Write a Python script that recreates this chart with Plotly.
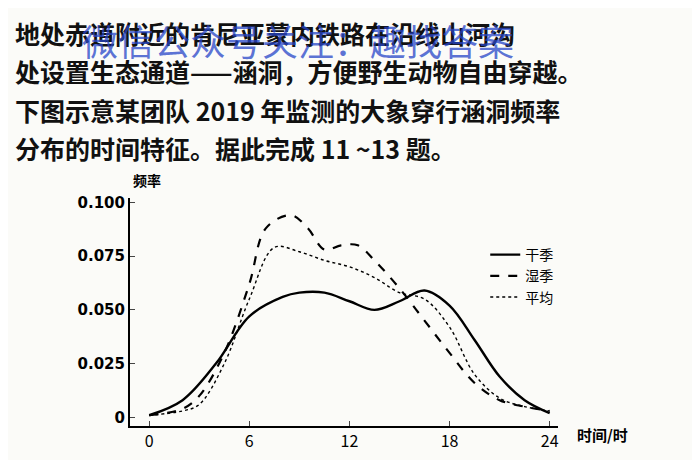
import plotly.graph_objects as go

hours_dry = [0, 2, 4, 6, 8, 9, 10.5, 12, 13.5, 15, 16.5, 18, 19.5, 21, 22.5, 24]
dry = [0.001, 0.008, 0.025, 0.047, 0.056, 0.058, 0.058, 0.054, 0.050, 0.054, 0.059, 0.052, 0.036, 0.019, 0.008, 0.002]

hours_wet = [0, 2, 3, 4.5, 6, 7, 8.5, 9.5, 10.5, 11.5, 12.5, 13.5, 15, 16.5, 18, 19.5, 21, 22.5, 24]
wet = [0.001, 0.004, 0.010, 0.030, 0.062, 0.088, 0.094, 0.088, 0.078, 0.080, 0.080, 0.073, 0.060, 0.045, 0.030, 0.016, 0.008, 0.005, 0.003]

hours_avg = [0, 2, 3, 4.5, 6, 7.5, 9, 10.5, 12, 13.5, 15, 16.5, 18, 19.5, 21, 22.5, 24]
avg = [0.001, 0.003, 0.006, 0.025, 0.055, 0.079, 0.077, 0.073, 0.070, 0.065, 0.058, 0.055, 0.042, 0.020, 0.009, 0.005, 0.003]

x_ticks = [0, 6, 12, 18, 24]
y_ticks = [0, 0.025, 0.05, 0.075, 0.1]
y_labels = ["0", "0.025", "0.050", "0.075", "0.100"]

text_lines = [
    "地处赤道附近的肯尼亚蒙内铁路在沿线山河沟",
    "处设置生态通道——涵洞，方便野生动物自由穿越。",
    "下图示意某团队 2019 年监测的大象穿行涵洞频率",
    "分布的时间特征。据此完成 11 ~13 题。",
]
line_px = [25, 63, 102, 140]

fig = go.Figure()
fig.add_trace(go.Scatter(x=hours_dry, y=dry, name="干季", mode="lines",
                         line=dict(color="black", width=2.4, shape="spline")))
fig.add_trace(go.Scatter(x=hours_wet, y=wet, name="湿季", mode="lines",
                         line=dict(color="black", width=2.2, dash="dash", shape="spline")))
fig.add_trace(go.Scatter(x=hours_avg, y=avg, name="平均", mode="lines",
                         line=dict(color="black", width=1.4, dash="dot", shape="spline")))

font = "Noto Sans CJK SC"
for t, py in zip(text_lines, line_px):
    fig.add_annotation(text="<b>" + t + "</b>", xref="paper", yref="paper",
                       x=-117 / 428, xanchor="left", y=1 + (190 - py) / 228,
                       yanchor="middle", showarrow=False,
                       font=dict(family=font, size=25, color="#111"))
fig.add_annotation(text="微信公众号关注：趣找答案", xref="paper", yref="paper",
                   x=-50 / 428, xanchor="left", y=1 + (190 - 32) / 228, yanchor="middle",
                   showarrow=False, font=dict(family=font, size=36, color="rgba(40,70,200,0.75)"))
fig.add_annotation(text="<b>频率</b>", xref="paper", yref="paper", x=0.04, xanchor="center",
                   y=1 + (190 - 172) / 228, yanchor="middle",
                   showarrow=False, font=dict(family=font, size=14, color="black"))
fig.add_annotation(text="<b>时间/时</b>", xref="paper", yref="paper", x=1.04, xanchor="left",
                   y=-0.09, showarrow=False, font=dict(family=font, size=15, color="black"))

fig.update_xaxes(range=[-1.15, 24.5], tickvals=x_ticks, showgrid=False, zeroline=False,
                 showline=True, linecolor="black", linewidth=2, ticks="inside",
                 tickfont=dict(family=font, size=16, color="black"))
fig.update_yaxes(range=[-0.004, 0.102], tickvals=y_ticks, ticktext=["<b>%s</b>" % s for s in y_labels],
                 showgrid=False, zeroline=False, showline=True, linecolor="black", linewidth=2,
                 ticks="inside", tickfont=dict(family="DejaVu Sans", size=15, color="black"))
fig.update_layout(width=700, height=460, margin=dict(l=122, r=150, t=190, b=42),
                  paper_bgcolor="#fbfbf8", plot_bgcolor="#fbfbf8",
                  legend=dict(x=0.83, y=0.82, xanchor="left", bgcolor="rgba(0,0,0,0)",
                              font=dict(family=font, size=14, color="black")))
fig.write_html("out.html")
